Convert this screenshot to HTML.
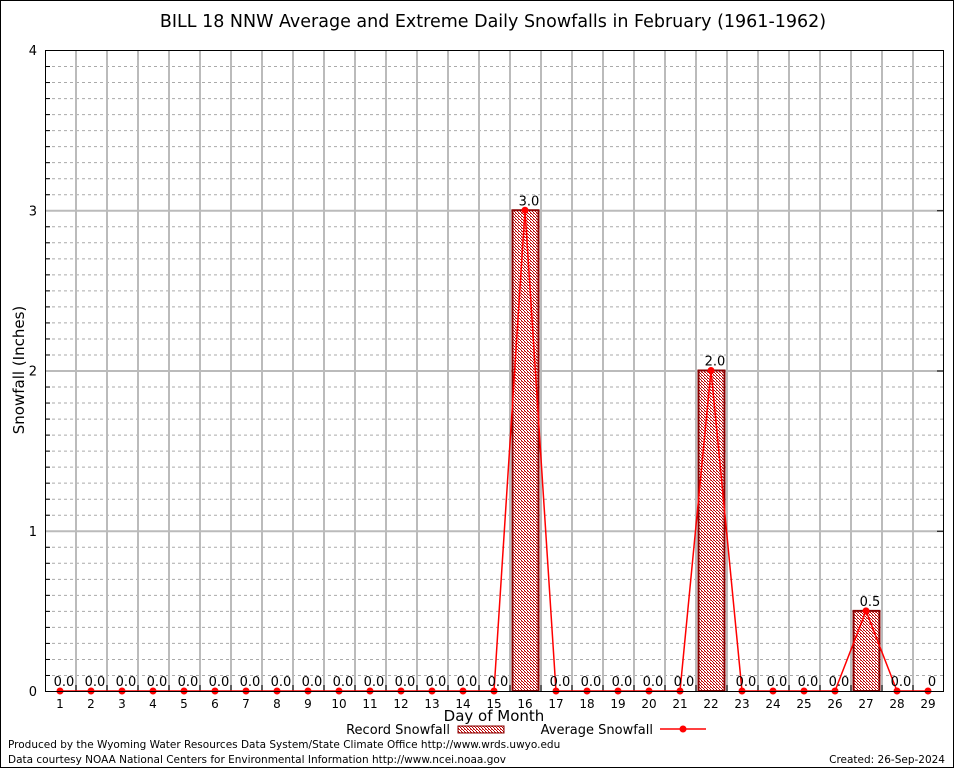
<!DOCTYPE html>
<html><head><meta charset="utf-8"><style>
html,body{margin:0;padding:0;background:#fff}
svg{display:block}
text{font-family:"DejaVu Sans","Liberation Sans",sans-serif}
</style></head><body>
<svg id="c" width="954" height="768" xmlns="http://www.w3.org/2000/svg">
<defs><pattern id="chk" width="3" height="3" patternUnits="userSpaceOnUse"><rect width="3" height="3" fill="#fff"/><rect width="1" height="1" fill="#b00"/><rect x="1" y="1" width="1" height="1" fill="#b00"/><rect x="2" y="2" width="1" height="1" fill="#b00"/><rect x="2" y="0" width="1" height="1" fill="#d66"/></pattern></defs>
<rect x="0.5" y="0.5" width="953" height="767" fill="#fff" stroke="#000"/>
<text x="493" y="27" font-size="17.5" text-anchor="middle">BILL 18 NNW Average and Extreme Daily Snowfalls in February (1961-1962)</text>
<g id="grid"></g><g id="bars"></g><g id="line"></g><g id="labels"></g>
<rect x="45.5" y="50.5" width="898" height="641" fill="none" stroke="#000"/>
<text x="24" y="370" font-size="15" text-anchor="middle" transform="rotate(-90 24 370)">Snowfall (Inches)</text>
<text x="494" y="721" font-size="15" text-anchor="middle">Day of Month</text>
<g>
<text x="450" y="734" font-size="13" text-anchor="end">Record Snowfall</text>
<rect x="458" y="726" width="46" height="7" fill="url(#chk)" stroke="#800"/>
<text x="653" y="734" font-size="13" text-anchor="end">Average Snowfall</text>
<line x1="660" y1="729" x2="706" y2="729" stroke="red" stroke-width="1.5"/>
<circle cx="683" cy="729" r="3.5" fill="red"/>
</g>
<text x="8" y="748" font-size="10.5">Produced by the Wyoming Water Resources Data System/State Climate Office http://www.wrds.uwyo.edu</text>
<text x="8" y="763" font-size="10.5">Data courtesy NOAA National Centers for Environmental Information http://www.ncei.noaa.gov</text>
<text x="945" y="763" font-size="10.5" text-anchor="end">Created:  26-Sep-2024</text>
</svg>
<script>
const days=[1,2,3,4,5,6,7,8,9,10,11,12,13,14,15,16,17,18,19,20,21,22,23,24,25,26,27,28,29];
const recordSnow=[0,0,0,0,0,0,0,0,0,0,0,0,0,0,0,3.0,0,0,0,0,0,2.0,0,0,0,0,0.5,0,0];
const avgSnow=[0,0,0,0,0,0,0,0,0,0,0,0,0,0,0,3.0,0,0,0,0,0,2.0,0,0,0,0,0.5,0,0];
const valueLabels=["0.0","0.0","0.0","0.0","0.0","0.0","0.0","0.0","0.0","0.0","0.0","0.0","0.0","0.0","0.0","3.0","0.0","0.0","0.0","0.0","0.0","2.0","0.0","0.0","0.0","0.0","0.5","0.0","0"];
const yTicks=[0,1,2,3,4];
const NS="http://www.w3.org/2000/svg";
const x=d=>60+(d-1)*31;
const y=v=>691-v*160.25;
function mk(p,t,a){const e=document.createElementNS(NS,t);for(const k in a)e.setAttribute(k,a[k]);p.appendChild(e);return e;}
const G=document.getElementById('grid');
for(let i=1;i<40;i++){if(i%10===0)continue;const l=mk(G,'line',{x1:46,x2:943,y1:y(i/10)+0.5,y2:y(i/10)+0.5,stroke:'#aaa','stroke-dasharray':'3,3'});


const m=mk(G,'line',{x1:46,x2:50,y1:y(i/10)+0.5,y2:y(i/10)+0.5,stroke:'#000'});

}
yTicks.forEach(t=>{if(t>0&&t<4){const l=mk(G,'line',{x1:46,x2:943,y1:y(t)+0.5,y2:y(t)+0.5,stroke:'#bbb','stroke-width':2});

}
const tk=mk(G,'line',{x1:937,x2:943,y1:y(t)+0.5,y2:y(t)+0.5,stroke:'#000'});


const tx=mk(G,'text',{x:37,y:y(t)+5,'font-size':13,'text-anchor':'end','font-family':'Liberation Serif,serif'});tx.textContent=t;

});
days.forEach(d=>{if(d<29){const l=mk(G,'line',{x1:x(d)+16,x2:x(d)+16,y1:51,y2:691,stroke:'#bbb','stroke-width':2});


const tk=mk(G,'line',{x1:x(d)+16,x2:x(d)+16,y1:685,y2:691,stroke:'#000'});

}
const t=mk(G,'text',{x:x(d),y:708,'font-size':12,'text-anchor':'middle','font-family':'Liberation Serif,serif'});t.textContent=d;

});
const B=document.getElementById('bars');
days.forEach((d,i)=>{if(recordSnow[i]>0){const r=mk(B,'rect',{x:x(d)-12.5,y:y(recordSnow[i]),width:26,height:691-y(recordSnow[i]),fill:'url(#chk)',stroke:'#800','stroke-width':2});

}});
const L=document.getElementById('line');
const pl=mk(L,'polyline',{points:days.map((d,i)=>x(d)+','+y(avgSnow[i])).join(' '),fill:'none',stroke:'red','stroke-width':1.5});


days.forEach((d,i)=>{const c=mk(L,'circle',{cx:x(d),cy:y(avgSnow[i]),r:3.5,fill:'red'});

});
const T=document.getElementById('labels');
days.forEach((d,i)=>{const t=mk(T,'text',{x:x(d)+4,y:y(recordSnow[i])-5,'font-size':13,'text-anchor':'middle'});t.textContent=valueLabels[i];

});
</script>
</body></html>
